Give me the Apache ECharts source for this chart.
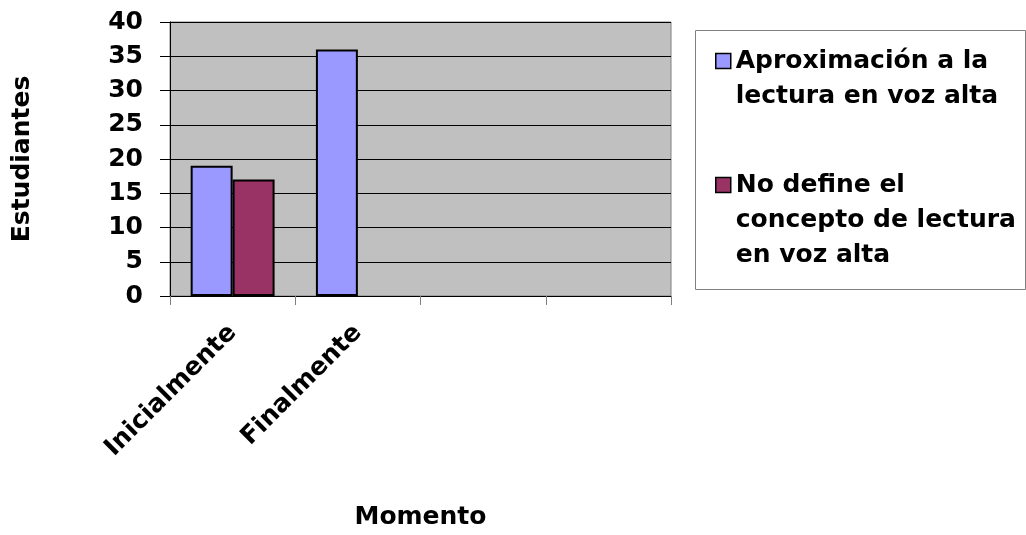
<!DOCTYPE html>
<html><head><meta charset="utf-8">
<script src="https://cdn.jsdelivr.net/npm/echarts@6/dist/echarts.min.js"></script>
<style>html,body{margin:0;padding:0;background:#fff}#c{width:1026px;height:535px}</style>
</head><body><div id="c"></div>
<script>
const categories = ['Inicialmente', 'Finalmente', '', ''];
const seriesNames = ['Aproximación a la lectura en voz alta', 'No define el concepto de lectura en voz alta'];
const aproximacion = [19, 36, null, null];
const noDefine = [17, null, null, null];
const yTicks = [0, 5, 10, 15, 20, 25, 30, 35, 40];
const legendLines = {
  'Aproximación a la lectura en voz alta': '\nAproximación a la\nlectura en voz alta',
  'No define el concepto de lectura en voz alta': '\n\nNo define el\nconcepto de lectura\nen voz alta'
};

const font = 'DejaVu Sans';
const chart = echarts.init(document.getElementById('c'));
const legendText = {fontFamily: font, fontWeight: 'bold', fontSize: 25, color: '#000', lineHeight: 35};
const legendCommon = {
  orient: 'vertical', left: 715, padding: 0,
  itemWidth: 15, itemHeight: 15, itemGap: 0, icon: 'rect',
  formatter: n => legendLines[n], textStyle: legendText,
  itemStyle: {borderColor: '#000', borderWidth: 1.5}
};
chart.setOption({
  animation: false,
  backgroundColor: '#fff',
  graphic: [{
    type: 'rect', left: 695, top: 30, z: -1,
    shape: {width: 330, height: 259},
    style: {fill: '#fff', stroke: '#808080', lineWidth: 1}
  }],
  legend: [
    Object.assign({data: [seriesNames[0]], top: 8.5}, legendCommon),
    Object.assign({data: [seriesNames[1]], top: 97.5}, legendCommon)
  ],
  grid: {
    left: 170, right: 355, top: 22, bottom: 238,
    show: true, backgroundColor: '#C0C0C0', borderColor: '#808080', borderWidth: 1
  },
  xAxis: {
    type: 'category', data: categories,
    name: 'Momento', nameLocation: 'middle', nameGap: 209,
    nameTextStyle: {fontFamily: font, fontWeight: 'bold', fontSize: 25, color: '#000'},
    axisLine: {lineStyle: {color: '#000', width: 1}},
    axisTick: {show: true, length: 9, alignWithLabel: false, lineStyle: {color: '#808080'}},
    axisLabel: {rotate: 45, margin: 33, interval: 0, fontFamily: font, fontWeight: 'bold', fontSize: 25, color: '#000'}
  },
  yAxis: {
    type: 'value', min: 0, max: 40, interval: 5,
    name: 'Estudiantes', nameLocation: 'middle', nameGap: 135,
    nameTextStyle: {fontFamily: font, fontWeight: 'bold', fontSize: 25, color: '#000'},
    axisLine: {show: true, lineStyle: {color: '#000', width: 1}},
    axisTick: {show: true, length: 10, lineStyle: {color: '#000'}},
    axisLabel: {margin: 27, fontFamily: font, fontWeight: 'bold', fontSize: 25, color: '#000',
      formatter: v => yTicks.includes(v) ? String(v) : ''},
    splitLine: {show: true, lineStyle: {color: '#000', width: 1}}
  },
  series: [{
    name: seriesNames[0], type: 'bar', data: aproximacion,
    barGap: '0%', barCategoryGap: '33%',
    itemStyle: {color: '#9999FF', borderColor: '#000', borderWidth: 2}
  }, {
    name: seriesNames[1], type: 'bar', data: noDefine,
    barGap: '0%', barCategoryGap: '33%',
    itemStyle: {color: '#993366', borderColor: '#000', borderWidth: 2}
  }]
});
</script></body></html>
